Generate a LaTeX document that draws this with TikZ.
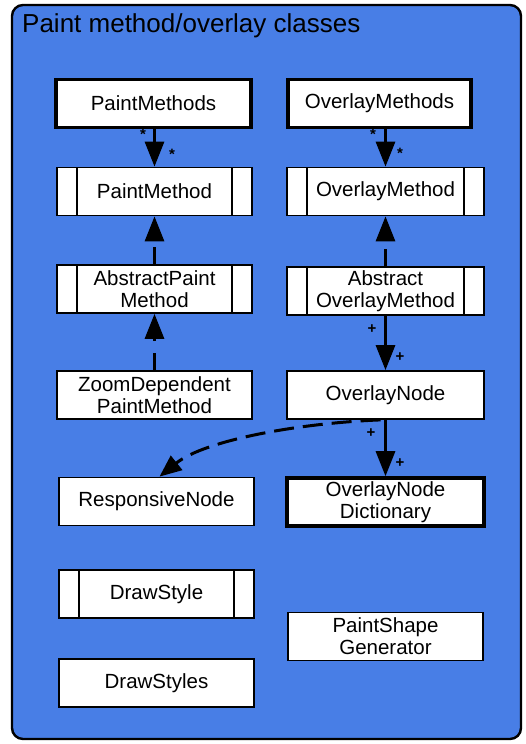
\documentclass[tikz,border=0pt]{standalone}
\usepackage{fontspec}
\setmainfont{Liberation Sans}
\usetikzlibrary{arrows.meta,calc}
\definecolor{panelblue}{RGB}{72,126,230}
\begin{document}
\begin{tikzpicture}[x=1pt,y=-1pt,
  cls/.style={draw=black, fill=white, line width=1.8pt, inner sep=0pt,
    minimum width=195pt, minimum height=48pt, align=center,
    font=\fontsize{20.5}{22}\selectfont},
  heavy/.style={line width=3.6pt},
  barred/.style={path picture={
    \draw[line width=1.6pt]
      ([xshift=20pt]path picture bounding box.north west) --
      ([xshift=20pt]path picture bounding box.south west)
      ([xshift=-20pt]path picture bounding box.north east) --
      ([xshift=-20pt]path picture bounding box.south east);}},
  conn/.style={line width=3pt, -{Triangle[length=25pt,width=19pt]}},
  gen/.style={conn, dash pattern=on 17pt off 12pt},
  mult/.style={inner sep=0pt, font=\fontsize{15}{15}\selectfont\bfseries},
]
\useasboundingbox (0,0) rectangle (525,744);
\fill[white] (0,0) rectangle (525,744);

% panel
\draw[fill=panelblue, line width=2.4pt, rounded corners=11pt]
  (12,5) rectangle (521,739);
\node[anchor=base west, inner sep=0pt, font=\fontsize{26}{28}\selectfont]
  (title) at (22,32) {Paint method/overlay classes};

% left column
\node[cls, heavy] (pms) at (153.5,103.5) {PaintMethods};
\node[cls, barred] (pm) at (154.5,191.5) {PaintMethod};
\node[cls, barred] (apm) at (154.5,289) {AbstractPaint\\Method};
\node[cls] (zdpm) at (154.5,395) {ZoomDependent\\PaintMethod};
\node[cls] (rn) at (156.5,501.5) {ResponsiveNode};
\node[cls, barred] (ds) at (156.5,594) {DrawStyle};
\node[cls] (dss) at (156.5,683) {DrawStyles};

% right column
\node[cls, heavy, minimum width=183pt] (oms) at (379.5,103.5) {OverlayMethods};
\node[cls, barred, minimum width=197pt] (om) at (385.5,191.5) {OverlayMethod};
\node[cls, barred, minimum width=197pt] (aom) at (385.5,291) {Abstract\\OverlayMethod};
\node[cls, minimum width=197pt] (on) at (385.5,395) {OverlayNode};
\node[cls, heavy, minimum width=197pt] (ond) at (385.5,502)
  {OverlayNode\\Dictionary};
\node[cls, minimum width=195pt] (psg) at (385.5,636.5) {PaintShape\\Generator};

% associations
\draw[conn] (pms.south -| pm.south) -- (pm.north);
\draw[conn] (oms.south -| om.south) -- (om.north);
\draw[conn] (aom.south) -- (on.north);
\draw[conn] (on.south) -- (ond.north);

% generalisations
\draw[gen] (apm.north) -- (pm.south);
\draw[gen] (zdpm.north) -- (apm.south);
\draw[gen] (aom.north) -- (om.south);

% dependency
\draw[line width=3pt, dash pattern=on 20pt off 9pt,
      -{Triangle[length=22pt,width=18pt]}]
  ([xshift=-5pt]on.south) .. controls (300,423) and (205,440) .. ([xshift=3pt]rn.north);

% multiplicities
\node[mult] (m1) at (143,134) {*};
\node[mult] (m2) at (172,154) {*};
\node[mult] (m3) at (373,134) {*};
\node[mult] (m4) at (400,153) {*};
\node[mult] (m5) at (372,329) {+};
\node[mult] (m6) at (400,357) {+};
\node[mult] (m7) at (371,433) {+};
\node[mult] (m8) at (400,463) {+};
\end{tikzpicture}
\end{document}
